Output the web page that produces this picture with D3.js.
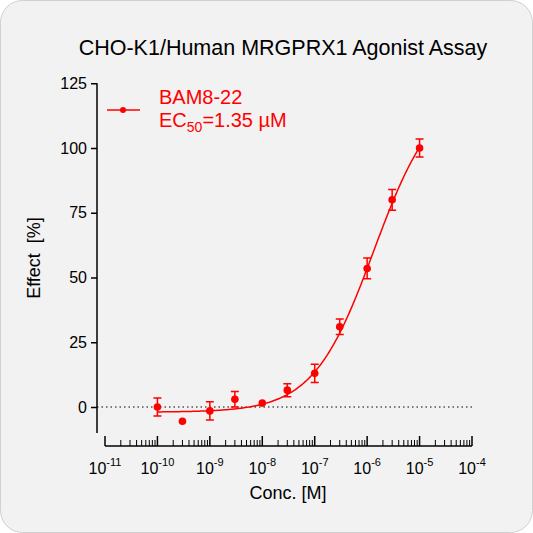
<!DOCTYPE html><html><head><meta charset="utf-8">
<script src="https://cdn.jsdelivr.net/npm/d3@7"></script>
<style>body{margin:0;background:#fff}svg{display:block}</style></head><body>
<svg id="c" width="533" height="533"></svg>
<script>
const concs=[1e-10,3e-10,1e-9,3e-9,1e-8,3e-8,1e-7,3e-7,1e-6,3e-6,1e-5];
const effect=[0,-5.5,-1.5,3,1.5,6.5,13,31,53.5,80,100];
const errs=[3.5,0,3.5,3,0.5,2.5,3.5,3,4,4,3.5];
const yTicks=[0,25,50,75,100,125];
const xExps=[-11,-10,-9,-8,-7,-6,-5,-4];
const fit={bottom:-2,top:123,ec50:1.35e-6,hill:0.75};
const svg=d3.select("#c");
svg.append("rect").attr("x",0.5).attr("y",0.5).attr("width",532).attr("height",532).attr("rx",22).attr("fill","#f2f2f2").attr("stroke","#d0d0d0");
const x=d3.scaleLog().domain([1e-11,1e-4]).range([105,472]);
const y=d3.scaleLinear().domain([0,100]).range([407,148]);
const red="#ff0000",font="Arial, Liberation Sans, sans-serif";
const ya=svg.append("g").attr("transform","translate(97,0)").call(d3.axisLeft(y).tickValues(yTicks).tickSize(6).tickPadding(4));
ya.select(".domain").attr("d",`M0,${y(125)}V${y(-10)}`).attr("stroke","#000").attr("stroke-width",1.5);
ya.selectAll("line").attr("stroke-width",1.5);
ya.selectAll("text").attr("font-size",16).attr("font-family",font);
const xa=svg.append("g").attr("transform","translate(0,446)");
xa.append("line").attr("x1",x(1e-11)).attr("x2",x(1e-4)).attr("stroke","#000").attr("stroke-width",1.5);
const minors=[];xExps.slice(0,-1).forEach(e=>{for(let k=2;k<10;k++)minors.push(k*Math.pow(10,e));});
xa.selectAll(".mn").data(minors).join("line").attr("x1",d=>x(d)).attr("x2",d=>x(d)).attr("y1",0).attr("y2",-6).attr("stroke","#000");
xa.selectAll(".mj").data(xExps).join("line").attr("x1",d=>x(Math.pow(10,d))).attr("x2",d=>x(Math.pow(10,d))).attr("y1",0).attr("y2",-10).attr("stroke","#000").attr("stroke-width",1.5);
const tl=xa.selectAll(".tl").data(xExps).join("text").attr("x",d=>x(Math.pow(10,d))).attr("y",28).attr("text-anchor","middle").attr("font-size",16).attr("font-family",font);
tl.append("tspan").text("10");tl.append("tspan").attr("dy",-8).attr("font-size",11).text(d=>d);
svg.append("line").attr("x1",97).attr("x2",472).attr("y1",y(0)).attr("y2",y(0)).attr("stroke","#000").attr("stroke-dasharray","1.5,3");
const f=c=>fit.bottom+(fit.top-fit.bottom)/(1+Math.pow(fit.ec50/c,fit.hill));
const cs=d3.range(0,201).map(i=>Math.pow(10,-10+i*5/200));
svg.append("path").attr("d",d3.line().x(d=>x(d)).y(d=>y(f(d)))(cs)).attr("fill","none").attr("stroke",red).attr("stroke-width",1.5);
const g=svg.append("g");
concs.forEach((c,i)=>{if(errs[i]<1)return;const cx=x(c),t=y(effect[i]+errs[i]),b=y(effect[i]-errs[i]);
g.append("path").attr("d",`M${cx},${t}V${b}M${cx-4},${t}H${cx+4}M${cx-4},${b}H${cx+4}`).attr("stroke",red).attr("stroke-width",1.5).attr("fill","none");});
g.selectAll("circle").data(concs).join("circle").attr("cx",d=>x(d)).attr("cy",(d,i)=>y(effect[i])).attr("r",3.8).attr("fill",red);
svg.append("line").attr("x1",107).attr("x2",140).attr("y1",110).attr("y2",110).attr("stroke",red).attr("stroke-width",1.5);
svg.append("circle").attr("cx",123).attr("cy",110).attr("r",3).attr("fill",red);
svg.append("text").attr("x",159).attr("y",104).attr("fill",red).attr("font-size",20).attr("font-family",font).text("BAM8-22");
const e=svg.append("text").attr("x",159).attr("y",127).attr("fill",red).attr("font-size",20).attr("font-family",font);
e.append("tspan").text("EC");e.append("tspan").attr("dy",5).attr("font-size",14).text("50");e.append("tspan").attr("dy",-5).text("=1.35 µM");
svg.append("text").attr("x",283).attr("y",55).attr("text-anchor","middle").attr("font-size",21.5).attr("font-family",font).text("CHO-K1/Human MRGPRX1 Agonist Assay");
svg.append("text").attr("x",288).attr("y",499).attr("text-anchor","middle").attr("font-size",18).attr("font-family",font).text("Conc. [M]");
svg.append("text").attr("transform","translate(40,258) rotate(-90)").attr("text-anchor","middle").attr("font-size",18).attr("font-family",font).attr("xml:space","preserve").text("Effect  [%]");
</script></body></html>
